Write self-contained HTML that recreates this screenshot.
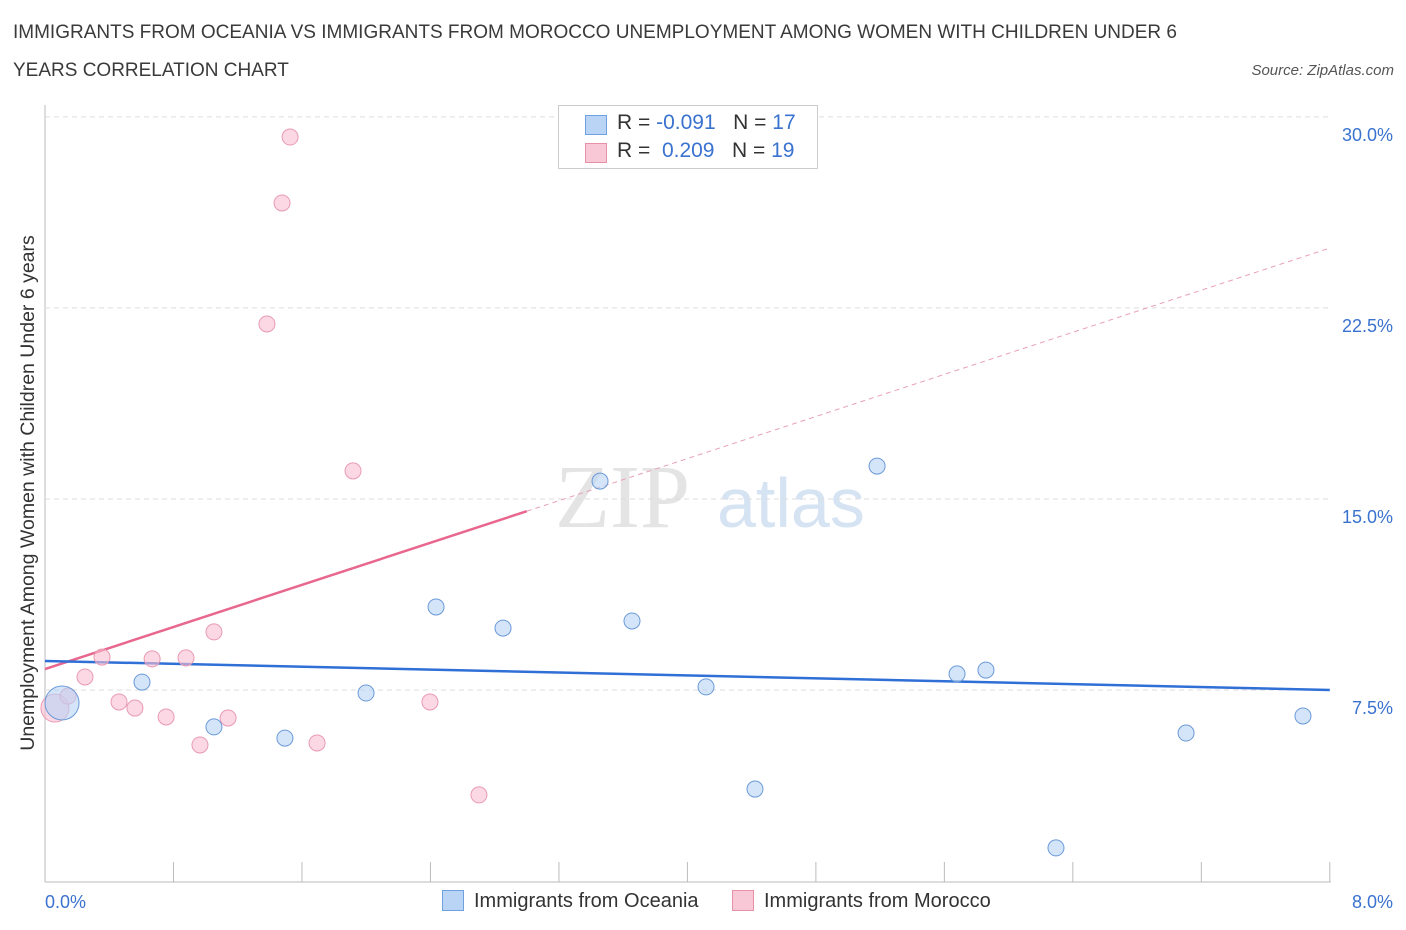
<!DOCTYPE html>
<html><head><meta charset="utf-8">
<style>
body{margin:0;background:#fff;font-family:"Liberation Sans",sans-serif;}
.t{position:absolute;color:#333;}
</style></head>
<body>
<div style="position:relative;width:1406px;height:930px;overflow:hidden">
<div class="t" style="left:13px;top:14px;font-size:19px;line-height:38px;color:#3a3a3a">IMMIGRANTS FROM OCEANIA VS IMMIGRANTS FROM MOROCCO UNEMPLOYMENT AMONG WOMEN WITH CHILDREN UNDER 6<br>YEARS CORRELATION CHART</div>
<div class="t" style="right:12px;top:62px;font-size:15px;font-style:italic;color:#555">Source: ZipAtlas.com</div>
<svg id="chart" width="1406" height="930" style="position:absolute;left:0;top:0">
<text x="555" y="527" font-size="90" font-family="Liberation Serif,serif" fill="#e4e4e4">ZIP</text>
<text x="717" y="527" font-size="70" fill="#d5e3f3">atlas</text>
<text transform="translate(34,493) rotate(-90)" text-anchor="middle" font-size="19.5" fill="#333">Unemployment Among Women with Children Under 6 years</text>
<g id="grid"></g><g id="lines"></g><g id="pts"></g>
</svg>
<div style="position:absolute;left:558px;top:105px;width:258px;height:62px;border:1px solid #ccc;background:#fff;font-size:21px;color:#333">
<div style="position:absolute;left:26px;top:9px;width:20px;height:18px;background:#b9d4f5;border:1px solid #6fa0e0"></div>
<div style="position:absolute;left:58px;top:5px">R = <span style="color:#3a72d0">-0.091</span>&nbsp;&nbsp;&nbsp;N = <span style="color:#3a72d0">17</span></div>
<div style="position:absolute;left:26px;top:37px;width:20px;height:18px;background:#f8c8d6;border:1px solid #e890a8"></div>
<div style="position:absolute;left:58px;top:33px">R = &nbsp;<span style="color:#3a72d0">0.209</span>&nbsp;&nbsp;&nbsp;N = <span style="color:#3a72d0">19</span></div>
</div>
<div style="position:absolute;left:442px;top:890px;font-size:20px;color:#333"><span style="display:inline-block;width:20px;height:19px;background:#b9d4f5;border:1px solid #6fa0e0;vertical-align:-4px;margin-right:10px"></span>Immigrants from Oceania</div>
<div style="position:absolute;left:732px;top:890px;font-size:20px;color:#333"><span style="display:inline-block;width:20px;height:19px;background:#f8c8d6;border:1px solid #e890a8;vertical-align:-4px;margin-right:10px"></span>Immigrants from Morocco</div>
</div>
<script>
const blueX=[0.106,0.604,1.052,1.494,1.999,2.435,2.852,3.456,3.655,4.116,4.421,5.181,5.679,5.859,6.295,7.105,7.833];
const blueY=[6.99,7.81,6.05,5.61,7.38,10.76,9.93,15.70,10.21,7.62,3.61,16.29,8.13,8.28,1.30,5.81,6.48];
const pinkX=[0.062,0.143,0.249,0.355,0.461,0.560,0.667,0.754,0.878,0.965,1.052,1.140,1.382,1.476,1.526,1.694,1.918,2.397,2.702];
const pinkY=[6.79,7.26,8.01,8.79,7.03,6.79,8.72,6.44,8.76,5.34,9.78,6.40,21.87,26.62,29.21,5.42,16.10,7.03,3.38];
const yTicks=[7.5,15.0,22.5,30.0];
const xTickLabels=["0.0%","8.0%"];
const blueTrend=[8.64,7.50];
const pinkTrend=[8.32,24.85];
const pinkSolidEnd=3.0;
const NS="http://www.w3.org/2000/svg";
const X=v=>45+v*160.6, Y=v=>881-v*25.47;
function mk(tag,attrs,parent){const e=document.createElementNS(NS,tag);for(const k in attrs)e.setAttribute(k,attrs[k]);document.getElementById(parent).appendChild(e);return e;}
let e;
e=mk('line',{x1:45,y1:105,x2:45,y2:882,stroke:'#bbb'},'grid');


e=mk('line',{x1:45,y1:882,x2:1331,y2:882,stroke:'#bbb'},'grid');


for(let i=0;i<=10;i++){const x=X(i*0.8);e=mk('line',{x1:x,y1:862,x2:x,y2:882,stroke:'#bbb'},'grid');

}
yTicks.forEach(t=>{e=mk('line',{x1:45,y1:Y(t),x2:1331,y2:Y(t),stroke:'#ddd','stroke-dasharray':'5,4'},'grid');


e=mk('text',{x:1393,y:Y(t)+24,'text-anchor':'end','font-size':18,fill:'#3a72d0'},'grid');e.textContent=t.toFixed(1)+'%';

});
e=mk('text',{x:45,y:908,'font-size':18,fill:'#3a72d0'},'grid');e.textContent=xTickLabels[0];


e=mk('text',{x:1393,y:908,'text-anchor':'end','font-size':18,fill:'#3a72d0'},'grid');e.textContent=xTickLabels[1];


const pAt=v=>pinkTrend[0]+(pinkTrend[1]-pinkTrend[0])*v/8;
e=mk('line',{x1:X(pinkSolidEnd),y1:Y(pAt(pinkSolidEnd)),x2:X(8),y2:Y(pinkTrend[1]),stroke:'#e9a0b8','stroke-dasharray':'5,4','stroke-width':1},'lines');


e=mk('line',{x1:X(0),y1:Y(pinkTrend[0]),x2:X(pinkSolidEnd),y2:Y(pAt(pinkSolidEnd)),stroke:'#e8678f','stroke-width':2.5},'lines');


e=mk('line',{x1:X(0),y1:Y(blueTrend[0]),x2:X(8),y2:Y(blueTrend[1]),stroke:'#2f6fd6','stroke-width':2.5},'lines');


pinkX.forEach((x,i)=>{e=mk('circle',{cx:X(x),cy:Y(pinkY[i]),r:i==0?14:8,fill:'rgba(248,190,208,0.6)',stroke:'#e99ab3','stroke-width':1},'pts');

});
blueX.forEach((x,i)=>{e=mk('circle',{cx:X(x),cy:Y(blueY[i]),r:i==0?17:8,fill:'rgba(185,212,245,0.6)',stroke:'#6a9ad8','stroke-width':1},'pts');

});
</script>
</body></html>
